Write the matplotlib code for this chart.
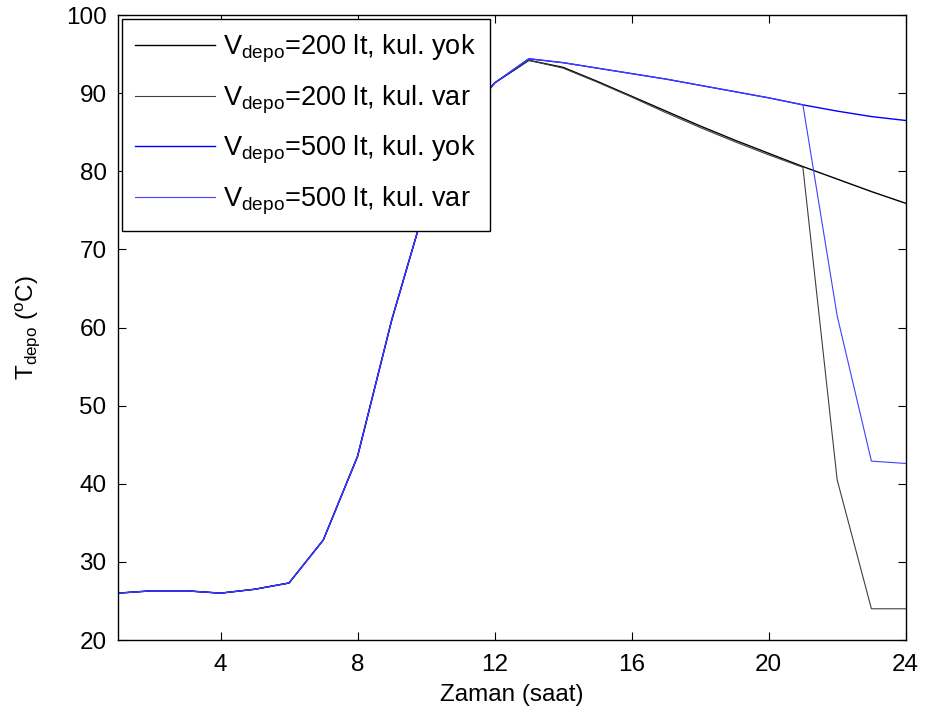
import numpy as np
import matplotlib
matplotlib.use("Agg")
import matplotlib.pyplot as plt

plt.rcParams["font.family"] = ["Liberation Sans", "DejaVu Sans"]
plt.rcParams["mathtext.default"] = "regular"

hours = list(range(1, 25))

# depo sicakligi (oC)
t200_yok = [26.0, 26.3, 26.3, 26.0, 26.5, 27.3, 32.8, 43.5, 61.0, 76.0, 86.0, 91.3,
            94.2, 93.3, 91.5, 89.6, 87.7, 85.8, 84.0, 82.3, 80.6, 79.0, 77.4, 75.9]
t200_var = [26.0, 26.3, 26.3, 26.0, 26.5, 27.3, 32.8, 43.5, 61.0, 76.0, 86.0, 91.3,
            94.2, 93.2, 91.4, 89.5, 87.5, 85.6, 83.8, 82.1, 80.5, 40.5, 24.0, 24.0]
t500_yok = [26.0, 26.3, 26.3, 26.0, 26.5, 27.3, 32.8, 43.5, 61.0, 76.0, 86.0, 91.3,
            94.4, 93.9, 93.2, 92.5, 91.8, 91.0, 90.2, 89.4, 88.5, 87.7, 87.0, 86.5]
t500_var = [26.0, 26.3, 26.3, 26.0, 26.5, 27.3, 32.8, 43.5, 61.0, 76.0, 86.0, 91.3,
            94.4, 93.9, 93.2, 92.5, 91.8, 91.0, 90.2, 89.4, 88.5, 61.5, 42.9, 42.6]

labels = [
    "V$_{depo}$=200 lt, kul. yok",
    "V$_{depo}$=200 lt, kul. var",
    "V$_{depo}$=500 lt, kul. yok",
    "V$_{depo}$=500 lt, kul. var",
]

fs = 17.5
leg_fs = 19.5

fig = plt.figure(figsize=(9.27, 7.18), dpi=100)
ax = fig.add_axes([0.127, 0.1086, 0.85, 0.8705])

ax.plot(hours, t200_yok, color="black", lw=1.0, label=labels[0])
ax.plot(hours, t200_var, color="#404040", lw=0.8, label=labels[1])
ax.plot(hours, t500_yok, color="#0000ff", lw=1.0, label=labels[2])
ax.plot(hours, t500_var, color="#4040ff", lw=0.8, label=labels[3])

ax.set_xlim(1, 24)
ax.set_ylim(20, 100)
ax.set_xticks([4, 8, 12, 16, 20, 24])
ax.set_yticks(np.arange(20, 101, 10))
ax.tick_params(direction="in", length=6, top=True, right=True, labelsize=fs)
ax.tick_params(axis="x", pad=10)
ax.tick_params(axis="y", pad=8)
for s in ax.spines.values():
    s.set_linewidth(1.0)

ax.set_xlabel("Zaman (saat)", fontsize=fs, labelpad=6)
ax.set_ylabel("T$_{depo}$ ($^{o}$C)", fontsize=fs, labelpad=17)

leg = ax.legend(loc="upper left", fontsize=leg_fs, handlelength=2.95, handletextpad=0.3,
                labelspacing=0.68, fancybox=False, framealpha=1, edgecolor="black",
                borderaxespad=0.15, borderpad=0.5)
leg.get_frame().set_linewidth(1.0)

fig.savefig("out.png", dpi=100)
